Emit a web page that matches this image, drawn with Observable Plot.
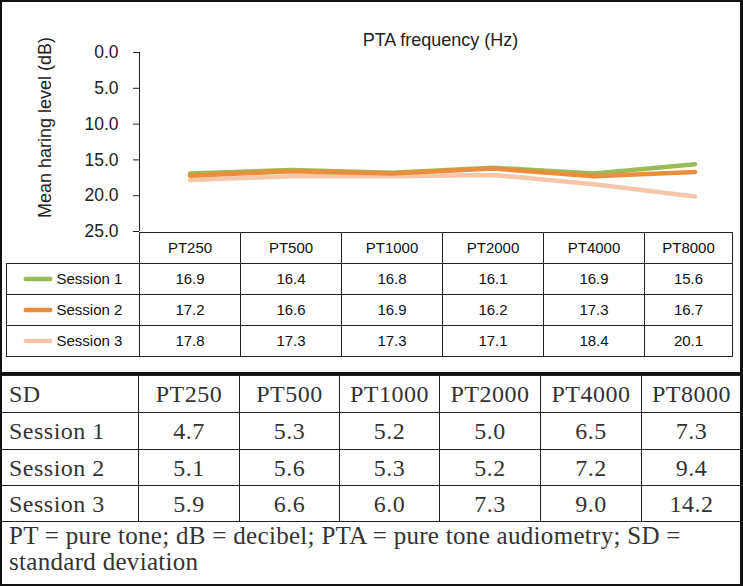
<!DOCTYPE html>
<html>
<head>
<meta charset="utf-8">
<script src="https://cdn.jsdelivr.net/npm/d3@7"></script>
<script src="https://cdn.jsdelivr.net/npm/@observablehq/plot@0.6"></script>
<style>
  html, body { margin: 0; padding: 0; background: #fff; }
  #wrap { position: relative; width: 743px; height: 586px; overflow: hidden; background: #fff; }
  #chart, #table1 { position: absolute; left: 0; }
  #chart { top: 0; }
  #table1 { top: 229px; }
  #sd { position: absolute; left: 0; top: 375px; border-collapse: collapse; table-layout: fixed;
        width: 741px; font-family: "Liberation Serif", "DejaVu Serif", serif; font-size: 24px; letter-spacing: 0.5px; color: #333; }
  #sd td { border: 1px solid #222; padding: 0; text-align: center; line-height: 1; overflow: hidden; white-space: nowrap; }
  #sd td.first { text-align: left; padding-left: 8px; }
  #sd td.note { text-align: left; padding: 1px 8px 0 8px; vertical-align: top; white-space: normal;
                line-height: 26px; font-size: 25px; letter-spacing: 0.3px; }
  #frame { position: absolute; left: 0; top: 0; width: 743px; height: 586px; box-sizing: border-box;
           border: 2px solid #111; border-right-width: 3px; pointer-events: none; }
  #divider { position: absolute; left: 0; top: 372px; width: 743px; height: 3px; background: #111; }
</style>
</head>
<body>
<div id="wrap">
  <div id="chart"></div>
  <div id="table1"></div>
  <div id="divider"></div>
  <table id="sd"></table>
  <div id="frame"></div>
</div>
<script>
// ---- data ----
const categories = ["PT250", "PT500", "PT1000", "PT2000", "PT4000", "PT8000"];
const sessions = ["Session 1", "Session 2", "Session 3"];
const session1 = [16.9, 16.4, 16.8, 16.1, 16.9, 15.6];
const session2 = [17.2, 16.6, 16.9, 16.2, 17.3, 16.7];
const session3 = [17.8, 17.3, 17.3, 17.1, 18.4, 20.1];
const sessionColors = ["#9bbb59", "#ea8d3c", "#f6c6aa"];
const yTicks = [0, 5, 10, 15, 20, 25];
const chartTitle = "PTA frequency (Hz)";
const yLabel = "Mean haring level (dB)";
const sdLabel = "SD";
const sd1 = [4.7, 5.3, 5.2, 5.0, 6.5, 7.3];
const sd2 = [5.1, 5.6, 5.3, 5.2, 7.2, 9.4];
const sd3 = [5.9, 6.6, 6.0, 7.3, 9.0, 14.2];
const note = "PT = pure tone; dB = decibel; PTA = pure tone audiometry; SD = standard deviation";

// ---- derived tables ----
const means = [session1, session2, session3];
const fmt = d3.format(".1f");
const long = sessions.flatMap((s, i) => categories.map((c, j) => ({session: s, cat: c, value: means[i][j]})));
const drawOrder = [2, 0, 1];
const lineData = drawOrder.flatMap(i => long.filter(d => d.session === sessions[i]));
const rows = ["header", ...sessions];
const cells = [
  ...categories.map(c => ({row: "header", cat: c, text: c})),
  ...long.map(d => ({row: d.session, cat: d.cat, text: fmt(d.value)}))
];
const lastCat = categories[categories.length - 1];
const sansFont = "'Liberation Sans', Arial, sans-serif";
const xScale = {type: "band", domain: categories, range: [139, 745], padding: 0, axis: null};
const colorScale = {domain: sessions, range: sessionColors};

// ---- chart ----
const chart = Plot.plot({
  width: 743, height: 240,
  marginLeft: 139, marginRight: 11, marginTop: 52, marginBottom: 9,
  x: xScale,
  y: {domain: [0, 25], range: [52, 231], ticks: yTicks, tickFormat: fmt, tickSize: 6, tickPadding: 15, label: null},
  color: colorScale,
  style: {fontFamily: sansFont, fontSize: "17.5px", color: "#222", background: "transparent"},
  marks: [
    Plot.ruleX([categories[0]], {dx: -50.5, y1: 0, y2: 25, stroke: "#222", strokeWidth: 1}),
    Plot.line(lineData, {x: "cat", y: "value", z: "session", stroke: "session", strokeWidth: 4.5,
      strokeLinecap: "round", strokeLinejoin: "round"}),
    Plot.text([chartTitle], {frameAnchor: "top", dx: 4.5, dy: -12, lineAnchor: "middle", fontSize: 18, fill: "#222"}),
    Plot.text([yLabel], {frameAnchor: "left", rotate: -90, dx: -94, dy: -14.5, textAnchor: "middle",
      lineAnchor: "middle", fontSize: 18, fill: "#222"})
  ]
});
document.getElementById("chart").appendChild(chart);

// ---- data table under the chart ----
const swatch = {draw(ctx) { ctx.moveTo(-12.2, 0); ctx.lineTo(12.2, 0); }};
const gridStyle = {fill: "none", stroke: "#222", strokeWidth: 1, shapeRendering: "crispEdges"};
const table1 = Plot.plot({
  width: 743, height: 130,
  marginLeft: 6, marginRight: 11, marginTop: 2, marginBottom: 3,
  x: xScale,
  y: {type: "band", domain: rows, padding: 0, axis: null},
  color: colorScale,
  style: {fontFamily: sansFont, fontSize: "15px", color: "#111", background: "transparent"},
  marks: [
    Plot.cell(sessions, {y: d => d, ...gridStyle}),
    Plot.cell(cells, {filter: d => d.cat !== lastCat, x: "cat", y: "row", ...gridStyle}),
    Plot.cell(cells, {filter: d => d.cat === lastCat, x: "cat", y: "row", insetRight: 13, ...gridStyle}),
    Plot.text(cells, {filter: d => d.cat !== lastCat, x: "cat", y: "row", text: "text", fill: "#111"}),
    Plot.text(cells, {filter: d => d.cat === lastCat, x: "cat", y: "row", text: "text", dx: -6.5, fill: "#111"}),
    Plot.dot(sessions, {y: d => d, frameAnchor: "left", dx: 31.5, symbol: swatch, r: 5, fill: "none",
      stroke: d => d, strokeWidth: 4.5, strokeLinecap: "round"}),
    Plot.text(sessions, {y: d => d, text: d => d, frameAnchor: "left", dx: 50, textAnchor: "start", fill: "#111"})
  ]
});
document.getElementById("table1").appendChild(table1);

// ---- SD table ----
const sdTable = d3.select("#sd");
const colWidths = [138, 101, 100, 100, 101, 101, 100];
sdTable.append("colgroup").selectAll("col").data(colWidths).join("col").style("width", d => d + "px");
const sdRows = [[sdLabel, ...categories], ...[sd1, sd2, sd3].map((r, i) => [sessions[i], ...r.map(fmt)])];
const rowHeights = [37, 37, 36, 36];
sdTable.selectAll("tr.r").data(sdRows).join("tr").attr("class", "r")
  .style("height", (d, i) => rowHeights[i] + "px")
  .selectAll("td").data(d => d).join("td")
  .attr("class", (d, i) => i === 0 ? "first" : null)
  .text(d => d);
sdTable.append("tr").style("height", "64px")
  .append("td").attr("colspan", 7).attr("class", "note").text(note);
</script>
</body>
</html>
